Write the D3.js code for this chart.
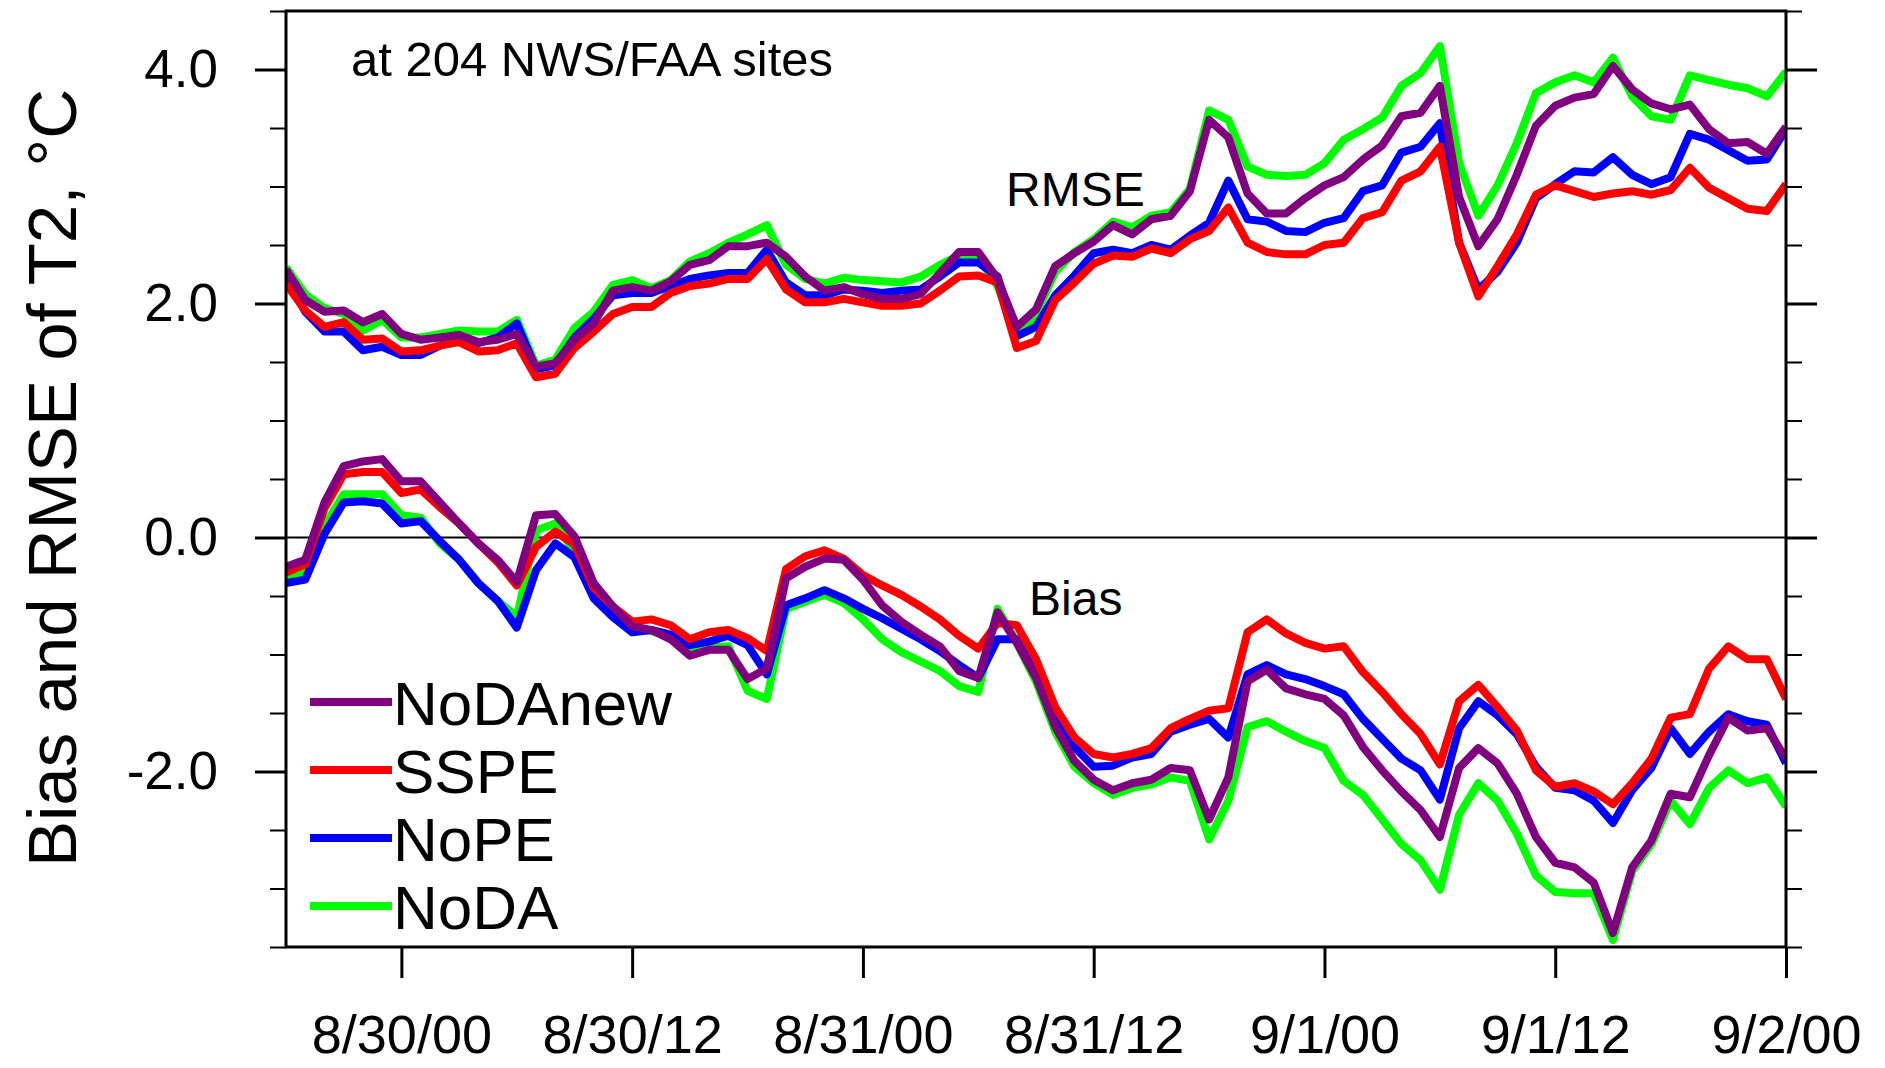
<html lang="en">
  <head>
    <meta charset="utf-8">
    <title>Bias and RMSE of T2</title>
    <script src="https://d3js.org/d3.v7.min.js"></script>
    <style>
      html, body { margin: 0; padding: 0; background: #fff; overflow: hidden; }
      svg { display: block; }
      text { font-family: "Liberation Sans", Arial, Helvetica, sans-serif; fill: #000; }
    </style>
  </head>
  <body>
    <script type="text/javascript">
      var w = 1885;
      var h = 1068;
      var margin = {top: 11, right: 99, bottom: 121, left: 286};
      var innerWidth = w - margin.left - margin.right;
      var innerHeight = h - margin.top - margin.bottom;

      // hourly forecasts, hour 0 = 8/29 18Z
      var hours = d3.range(0, 79);
      var xTickHours = [6, 18, 30, 42, 54, 66, 78];
      var xTickLabels = ["8/30/00", "8/30/12", "8/31/00", "8/31/12", "9/1/00", "9/1/12", "9/2/00"];
      var yTickValues = [-2, 0, 2, 4];
      var yTickLabels = ["-2.0", "0.0", "2.0", "4.0"];
      var yMinorTicks = [-3.5, -3, -2.5, -1.5, -1, -0.5, 0.5, 1, 1.5, 2.5, 3, 3.5, 4.5];

      var rmseNoDAnew = [2.29, 2.03, 1.93, 1.94, 1.84, 1.91, 1.74, 1.69, 1.71, 1.73, 1.67, 1.69, 1.74, 1.46, 1.49, 1.69, 1.83, 2.11, 2.14, 2.11,
        2.19, 2.33, 2.37, 2.49, 2.49, 2.52, 2.40, 2.23, 2.11, 2.14, 2.08, 2.04, 2.04, 2.08, 2.26, 2.44, 2.44, 2.21, 1.80, 1.95,
        2.32, 2.43, 2.53, 2.67, 2.59, 2.72, 2.75, 2.96, 3.57, 3.42, 2.94, 2.77, 2.77, 2.90, 3.01, 3.08, 3.23, 3.35, 3.60, 3.63,
        3.86, 2.91, 2.49, 2.72, 3.10, 3.52, 3.69, 3.76, 3.79, 4.03, 3.83, 3.71, 3.66, 3.70, 3.49, 3.37, 3.38, 3.28, 3.51];
      var rmseSSPE = [2.17, 1.94, 1.80, 1.84, 1.69, 1.70, 1.59, 1.60, 1.64, 1.67, 1.59, 1.60, 1.66, 1.37, 1.40, 1.62, 1.76, 1.91, 1.97, 1.97,
        2.09, 2.15, 2.17, 2.21, 2.21, 2.38, 2.12, 2.01, 2.01, 2.04, 2.01, 1.98, 1.98, 2.00, 2.11, 2.23, 2.24, 2.18, 1.62, 1.68,
        2.03, 2.18, 2.34, 2.41, 2.40, 2.47, 2.43, 2.55, 2.62, 2.82, 2.52, 2.44, 2.42, 2.42, 2.50, 2.52, 2.73, 2.78, 3.05, 3.13,
        3.34, 2.52, 2.06, 2.32, 2.59, 2.93, 3.01, 2.96, 2.91, 2.94, 2.96, 2.93, 2.97, 3.16, 2.99, 2.90, 2.81, 2.79, 3.02];
      var rmseNoPE = [2.22, 1.93, 1.76, 1.76, 1.60, 1.63, 1.56, 1.56, 1.64, 1.70, 1.66, 1.71, 1.83, 1.44, 1.47, 1.71, 1.87, 2.07, 2.09, 2.09,
        2.15, 2.21, 2.24, 2.26, 2.26, 2.46, 2.18, 2.07, 2.07, 2.12, 2.11, 2.09, 2.11, 2.12, 2.23, 2.35, 2.35, 2.23, 1.72, 1.80,
        2.07, 2.24, 2.43, 2.46, 2.43, 2.50, 2.46, 2.58, 2.69, 3.05, 2.72, 2.70, 2.62, 2.61, 2.69, 2.73, 2.96, 3.01, 3.29, 3.34,
        3.54, 2.52, 2.12, 2.27, 2.52, 2.90, 3.02, 3.13, 3.12, 3.25, 3.10, 3.02, 3.08, 3.45, 3.40, 3.31, 3.22, 3.23, 3.49];
      var rmseNoDA = [2.31, 2.08, 1.96, 1.91, 1.77, 1.86, 1.71, 1.71, 1.74, 1.77, 1.76, 1.76, 1.86, 1.47, 1.52, 1.79, 1.93, 2.16, 2.20, 2.13,
        2.20, 2.36, 2.43, 2.52, 2.59, 2.67, 2.33, 2.21, 2.17, 2.22, 2.20, 2.19, 2.18, 2.23, 2.33, 2.41, 2.40, 2.15, 1.72, 1.91,
        2.27, 2.44, 2.55, 2.70, 2.65, 2.75, 2.78, 2.98, 3.65, 3.57, 3.17, 3.10, 3.09, 3.10, 3.20, 3.40, 3.49, 3.59, 3.86, 3.97,
        4.20, 3.20, 2.75, 3.01, 3.37, 3.80, 3.89, 3.95, 3.89, 4.10, 3.77, 3.60, 3.57, 3.95, 3.91, 3.87, 3.84, 3.77, 3.98];

      var biasNoDAnew = [-0.25, -0.19, 0.30, 0.61, 0.65, 0.67, 0.48, 0.48, 0.30, 0.12, -0.05, -0.19, -0.38, 0.19, 0.20, 0.01, -0.39, -0.59, -0.76, -0.79,
        -0.87, -1.01, -0.96, -0.96, -1.21, -1.12, -0.35, -0.25, -0.18, -0.19, -0.36, -0.58, -0.72, -0.83, -0.93, -1.14, -1.20, -0.64, -0.90, -1.20,
        -1.62, -1.91, -2.07, -2.16, -2.10, -2.07, -1.97, -1.99, -2.41, -2.05, -1.23, -1.13, -1.29, -1.34, -1.38, -1.52, -1.79, -1.99, -2.17, -2.33,
        -2.56, -1.97, -1.80, -1.93, -2.19, -2.56, -2.78, -2.82, -2.95, -3.38, -2.82, -2.59, -2.19, -2.22, -1.86, -1.54, -1.65, -1.63, -1.89];
      var biasSSPE = [-0.30, -0.23, 0.25, 0.54, 0.56, 0.56, 0.38, 0.41, 0.26, 0.12, -0.05, -0.21, -0.41, -0.08, 0.05, -0.06, -0.43, -0.59, -0.72, -0.70,
        -0.75, -0.87, -0.81, -0.79, -0.86, -0.97, -0.27, -0.16, -0.11, -0.18, -0.32, -0.41, -0.49, -0.59, -0.70, -0.84, -0.95, -0.73, -0.75, -1.04,
        -1.45, -1.71, -1.85, -1.88, -1.85, -1.80, -1.63, -1.55, -1.48, -1.46, -0.81, -0.70, -0.82, -0.90, -0.95, -0.93, -1.15, -1.32, -1.51, -1.68,
        -1.94, -1.40, -1.26, -1.45, -1.65, -1.99, -2.13, -2.10, -2.17, -2.28, -2.10, -1.89, -1.54, -1.51, -1.12, -0.93, -1.04, -1.04, -1.38];
      var biasNoPE = [-0.39, -0.36, 0.03, 0.30, 0.31, 0.29, 0.12, 0.14, -0.03, -0.19, -0.39, -0.54, -0.77, -0.28, -0.05, -0.17, -0.52, -0.68, -0.81, -0.79,
        -0.83, -0.92, -0.89, -0.84, -0.92, -1.17, -0.58, -0.52, -0.45, -0.52, -0.61, -0.69, -0.78, -0.87, -0.97, -1.09, -1.20, -0.87, -0.87, -1.14,
        -1.51, -1.79, -1.96, -1.95, -1.88, -1.85, -1.66, -1.60, -1.55, -1.71, -1.17, -1.09, -1.17, -1.21, -1.27, -1.34, -1.55, -1.72, -1.89, -1.99,
        -2.24, -1.63, -1.40, -1.52, -1.68, -1.96, -2.14, -2.16, -2.25, -2.44, -2.16, -1.97, -1.63, -1.85, -1.66, -1.51, -1.57, -1.60, -1.93];
      var biasNoDA = [-0.33, -0.30, 0.10, 0.37, 0.37, 0.37, 0.19, 0.17, -0.05, -0.19, -0.39, -0.54, -0.68, 0.06, 0.12, -0.12, -0.48, -0.65, -0.77, -0.80,
        -0.85, -0.96, -0.94, -0.93, -1.31, -1.38, -0.61, -0.55, -0.49, -0.56, -0.70, -0.87, -0.98, -1.06, -1.14, -1.27, -1.32, -0.61, -0.90, -1.23,
        -1.66, -1.96, -2.10, -2.20, -2.14, -2.11, -2.05, -2.08, -2.58, -2.25, -1.62, -1.57, -1.66, -1.74, -1.80, -2.08, -2.20, -2.41, -2.62, -2.76,
        -3.01, -2.37, -2.10, -2.25, -2.53, -2.89, -3.03, -3.04, -3.04, -3.44, -2.85, -2.62, -2.25, -2.45, -2.14, -1.99, -2.10, -2.05, -2.30];

      var seriesNames = ["NoDAnew", "SSPE", "NoPE", "NoDA"];
      var seriesColors = ["#800080", "#ff0000", "#0000ff", "#00ff00"];
      var rmseSeries = [rmseNoDAnew, rmseSSPE, rmseNoPE, rmseNoDA];
      var biasSeries = [biasNoDAnew, biasSSPE, biasNoPE, biasNoDA];

      var xScale = d3.scaleLinear()
          .domain([0, 78])
          .range([0, innerWidth]);
      var yScale = d3.scaleLinear()
          .domain([-3.5, 4.5])
          .range([innerHeight, 0]);

      var svg = d3.select("body")
          .append("svg")
          .attr("width", w)
          .attr("height", h);

      svg.append("defs").append("clipPath")
          .attr("id", "plotclip")
          .append("rect")
          .attr("width", innerWidth)
          .attr("height", innerHeight);

      var g = svg.append("g")
          .attr("transform", `translate(${margin.left},${margin.top})`);

      // zero line
      g.append("line")
          .attr("x1", 0).attr("x2", innerWidth)
          .attr("y1", yScale(0)).attr("y2", yScale(0))
          .attr("stroke", "#000")
          .attr("stroke-width", 2);

      var line = d3.line()
          .x(function(d, i) { return xScale(hours[i]); })
          .y(function(d) { return yScale(d); });

      // draw NoDA first so NoDAnew ends on top
      var plotLines = g.append("g").attr("clip-path", "url(#plotclip)");
      for (var k = seriesNames.length - 1; k >= 0; k--) {
        [rmseSeries[k], biasSeries[k]].forEach(function(vals) {
          plotLines.append("path")
              .datum(vals)
              .attr("d", line)
              .attr("fill", "none")
              .attr("stroke", seriesColors[k])
              .attr("stroke-width", 8)
              .attr("stroke-linejoin", "round");
        });
      }

      // axes
      function styleAxis(sel, width) {
        sel.select(".domain").remove();
        sel.selectAll(".tick line").attr("stroke", "#000").attr("stroke-width", width);
      }

      g.append("g")
          .call(d3.axisLeft(yScale).tickValues(yMinorTicks).tickSize(16).tickFormat(""))
          .call(styleAxis, 2);
      g.append("g")
          .call(d3.axisLeft(yScale).tickValues(yTickValues).tickSize(31).tickPadding(37)
            .tickFormat(function(d, i) { return yTickLabels[i]; }))
          .call(styleAxis, 3)
          .selectAll("text")
          .attr("font-size", 53)
          .attr("font-family", "Liberation Sans, Arial, sans-serif");

      g.append("g")
          .attr("transform", `translate(${innerWidth},0)`)
          .call(d3.axisRight(yScale).tickValues(yMinorTicks).tickSize(16).tickFormat(""))
          .call(styleAxis, 2);
      g.append("g")
          .attr("transform", `translate(${innerWidth},0)`)
          .call(d3.axisRight(yScale).tickValues(yTickValues).tickSize(31).tickFormat(""))
          .call(styleAxis, 3);

      g.append("g")
          .attr("transform", `translate(0,${innerHeight})`)
          .call(d3.axisBottom(xScale).tickValues(xTickHours).tickSize(31).tickPadding(37)
            .tickFormat(function(d, i) { return xTickLabels[i]; }))
          .call(styleAxis, 3)
          .selectAll("text")
          .attr("font-size", 54)
          .attr("font-family", "Liberation Sans, Arial, sans-serif");

      // frame
      g.append("rect")
          .attr("width", innerWidth)
          .attr("height", innerHeight)
          .attr("fill", "none")
          .attr("stroke", "#000")
          .attr("stroke-width", 3);

      // y title
      svg.append("text")
          .attr("transform", "translate(76,478) rotate(-90)")
          .attr("text-anchor", "middle")
          .attr("font-size", 69)
          .text("Bias and RMSE of T2, \u00B0C");

      // annotations
      svg.append("text").attr("x", 351).attr("y", 76).attr("font-size", 49).text("at 204 NWS/FAA sites");
      svg.append("text").attr("x", 1006).attr("y", 206).attr("font-size", 48).text("RMSE");
      svg.append("text").attr("x", 1029).attr("y", 615).attr("font-size", 48).text("Bias");

      // legend
      var legend = svg.append("g").attr("transform", "translate(310,702)");
      seriesNames.forEach(function(name, i) {
        var row = legend.append("g").attr("transform", `translate(0,${i * 68})`);
        row.append("line")
            .attr("x1", 0).attr("x2", 82)
            .attr("stroke", seriesColors[i])
            .attr("stroke-width", 8);
        row.append("text")
            .attr("x", 83)
            .attr("y", 23)
            .attr("font-size", 62)
            .text(name);
      });
    </script>
  </body>
</html>
